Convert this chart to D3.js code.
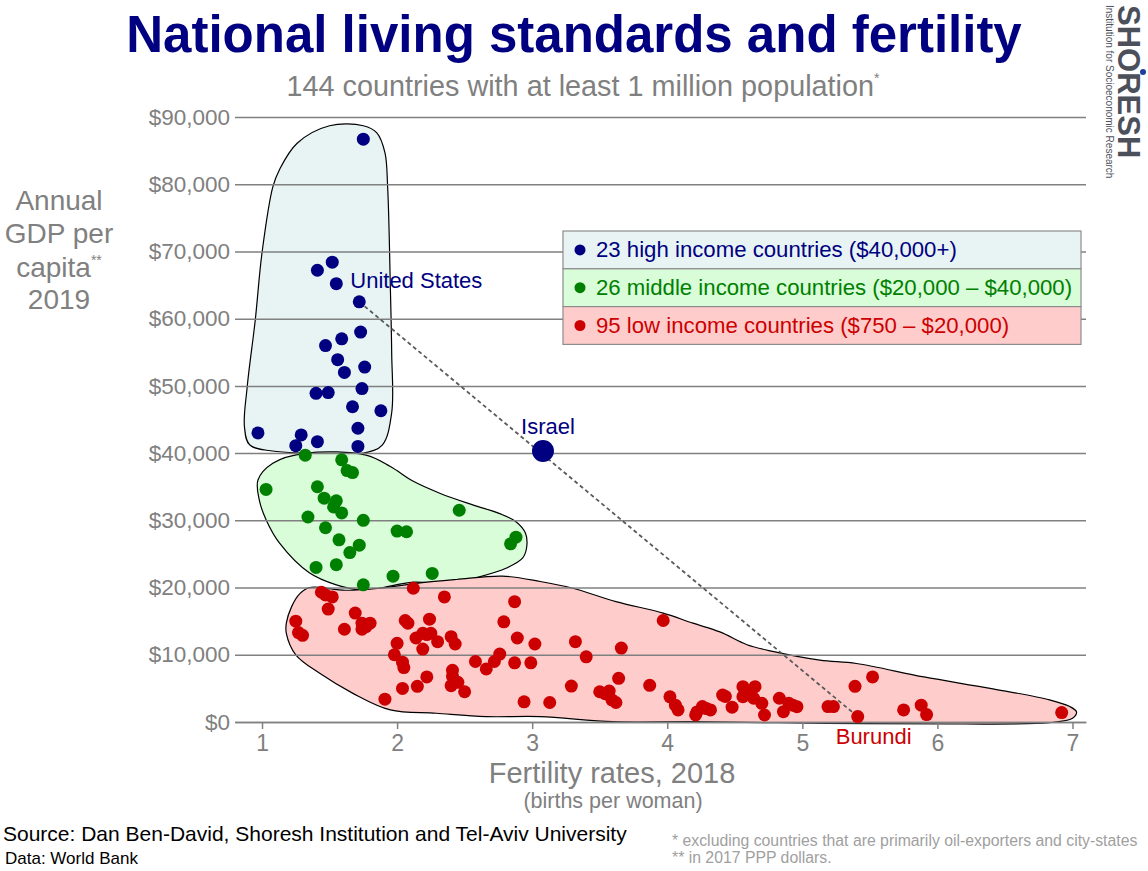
<!DOCTYPE html>
<html>
<head>
<meta charset="utf-8">
<script src="https://cdn.jsdelivr.net/npm/d3@7"></script>
<style>
  body { margin: 0; background: #fff; }
  svg { display: block; font-family: "Liberation Sans", Arial, sans-serif; }
</style>
</head>
<body>
<svg id="chart"></svg>
<script>
// fertility rate (births per woman), GDP per capita (2017 PPP $)
const highIncome = [
  [1.75, 86700], [1.52, 68400], [1.41, 67200], [1.55, 65200], [1.72, 62500],
  [1.73, 58000], [1.59, 57000], [1.47, 56000], [1.56, 53900], [1.76, 52800],
  [1.61, 52000], [1.74, 49600], [1.40, 48900], [1.49, 49000], [1.88, 46300],
  [1.67, 46900], [1.71, 43700], [0.97, 43000], [1.29, 42700], [1.41, 41700],
  [1.25, 41100], [1.71, 41000]
];
const israel = [3.08, 40300];

const middleIncome = [
  [1.32, 39700], [1.59, 39000], [1.63, 37400], [1.67, 37100], [1.03, 34600],
  [1.41, 35000], [1.46, 33300], [1.55, 32900], [1.53, 32000], [1.59, 31100],
  [2.46, 31500], [1.34, 30500], [1.75, 30000], [1.47, 28900], [2.00, 28400],
  [2.07, 28300], [1.57, 27100], [1.72, 26300], [2.88, 27500], [2.84, 26500],
  [1.65, 25200], [1.40, 23000], [1.55, 23400], [2.26, 22100], [1.97, 21700],
  [1.75, 20400]
];

const lowIncome = [
  [1.44, 19300], [1.52, 18600], [1.47, 18900], [1.49, 16800], [1.25, 15000],
  [1.27, 13300], [1.30, 12900], [1.69, 16200], [1.74, 14700], [1.80, 14700],
  [1.74, 13800], [1.77, 14200], [1.61, 13800], [2.12, 19900], [2.35, 18600],
  [2.06, 15100], [2.08, 14700], [2.24, 15300], [2.00, 11700], [2.14, 12500],
  [2.19, 13200], [2.22, 13000], [2.25, 13200], [2.30, 11950], [2.19, 10850],
  [2.40, 12700], [2.43, 11600], [1.98, 10000], [2.87, 17900], [2.79, 14900],
  [2.89, 12500], [3.02, 11600], [2.04, 8900], [2.05, 8100], [2.76, 10100],
  [2.72, 9000], [2.66, 7900], [2.58, 9000], [2.87, 8800], [2.99, 8800],
  [2.41, 7700], [2.41, 6800], [2.22, 6700], [2.40, 5400], [2.45, 5900],
  [2.50, 4500], [2.15, 5300], [2.04, 5000], [1.91, 3400], [2.94, 3000],
  [3.13, 2900], [3.97, 15100], [3.32, 11950], [3.66, 11000], [3.40, 9700],
  [3.64, 6500], [3.29, 5350], [3.87, 5450], [3.50, 4500], [3.57, 4600],
  [3.54, 4200], [3.59, 3300], [3.62, 2900], [4.02, 3750], [4.06, 2500],
  [4.08, 1800], [4.22, 1500], [4.26, 2300], [4.29, 2000], [4.32, 1800],
  [4.21, 1050], [4.41, 4000], [4.43, 3800], [4.48, 2200], [4.56, 5250],
  [4.65, 5250], [4.60, 4500], [4.56, 3770], [4.64, 3530], [4.70, 2780],
  [4.72, 1040], [4.83, 3530], [4.90, 2780], [4.93, 2500], [4.96, 2280],
  [4.86, 1530], [5.19, 2300], [5.23, 2300], [5.39, 5300], [5.52, 6700],
  [5.41, 800], [5.75, 1800], [5.88, 2500], [5.92, 1100], [6.92, 1400]
];

const namedCountries = [
  {name: "United States", fert: 1.72, gdp: 62500, group: "high"},
  {name: "Israel", fert: 3.08, gdp: 40300, group: "high"},
  {name: "Burundi", fert: 5.41, gdp: 800, group: "low"}
];

// hand-drawn group outlines, in data units
const highOutline = [
  [1.75, 88700], [1.85, 87650], [1.91, 84700], [1.93, 79600], [1.95, 64700],
  [1.96, 54900], [1.96, 46000], [1.89, 41200], [1.75, 40000], [1.50, 40000],
  [1.13, 40200], [0.91, 41200], [0.87, 43900], [0.89, 49800], [0.95, 59800],
  [1.00, 69800], [1.08, 79600], [1.13, 82200], [1.26, 86100], [1.50, 88700]
];
const middleOutline = [
  [0.97, 36000], [1.08, 38500], [1.33, 40000], [1.77, 39700], [1.95, 38000],
  [2.12, 35800], [2.32, 34000], [2.56, 32300], [2.76, 31000], [2.88, 29800],
  [2.95, 28100], [2.96, 26100], [2.93, 24400], [2.81, 22900], [2.61, 21600],
  [2.37, 20600], [2.12, 20800], [1.87, 19900], [1.75, 19600], [1.55, 20400],
  [1.35, 22200], [1.13, 26600], [1.03, 30100], [0.98, 33000]
];
const lowOutline = [
  [1.35, 20000], [1.62, 19600], [1.87, 19900], [2.17, 20700], [2.44, 21200],
  [2.78, 21700], [3.06, 20900], [3.30, 19900], [3.62, 17900], [3.97, 16200],
  [4.19, 14700], [4.39, 13400], [4.59, 11500], [4.78, 10500], [5.13, 9200],
  [5.40, 8700], [5.90, 6700], [6.39, 5000], [6.83, 3300], [6.98, 2300],
  [7.03, 1500], [7.00, 550], [6.83, -100], [6.14, -300], [5.18, -200],
  [4.19, 50], [3.60, 50], [3.06, 800], [2.66, 800], [2.29, 1300],
  [1.95, 1800], [1.67, 4300], [1.43, 7200], [1.25, 10000], [1.18, 13200],
  [1.18, 14700], [1.22, 17200], [1.28, 19100]
];

const xTicks = [1, 2, 3, 4, 5, 6, 7];
const yTicks = [0, 10000, 20000, 30000, 40000, 50000, 60000, 70000, 80000, 90000];

const groups = [
  {key: "high", label: "23 high income countries ($40,000+)", data: highIncome, outline: highOutline},
  {key: "middle", label: "26 middle income countries ($20,000 \u2013 $40,000)", data: middleIncome, outline: middleOutline},
  {key: "low", label: "95 low income countries ($750 \u2013 $20,000)", data: lowIncome, outline: lowOutline}
];

const dotColor = {high: "#000080", middle: "#008000", low: "#cc0000"};
const areaColor = {high: "#e8f4f4", middle: "#d9fcd9", low: "#ffcccc"};
const grey = "#808080";

const width = 1148, height = 871;
const plot = {left: 235, right: 1086, top: 117, bottom: 722};

const svg = d3.select("#chart")
    .attr("width", width)
    .attr("height", height);

const x = d3.scaleLinear().domain([0.8, 7.1]).range([plot.left, plot.right]);
const y = d3.scaleLinear().domain([0, 90000]).range([plot.bottom, plot.top]);

// group outlines
const outline = d3.line()
    .x(d => x(d[0]))
    .y(d => y(d[1]))
    .curve(d3.curveCatmullRomClosed.alpha(0.5));

svg.append("g").selectAll("path")
    .data(groups)
  .join("path")
    .attr("d", d => outline(d.outline))
    .attr("fill", d => areaColor[d.key])
    .attr("stroke", "#000")
    .attr("stroke-width", 1.2);

// gridlines + y labels
const yAxis = svg.append("g")
    .attr("transform", `translate(${plot.left},0)`)
    .call(d3.axisLeft(y)
      .tickValues(yTicks)
      .tickFormat(d => "$" + d3.format(",")(d))
      .tickSize(-(plot.right - plot.left))
      .tickSizeOuter(0)
      .tickPadding(5));
yAxis.select(".domain").remove();
yAxis.selectAll(".tick line").attr("stroke", grey).attr("stroke-width", 1.5);
yAxis.selectAll(".tick text")
    .attr("fill", grey)
    .attr("font-size", 22.5)
    .attr("font-family", "Liberation Sans, Arial, sans-serif");

// x axis
const xAxis = svg.append("g")
    .attr("transform", `translate(0,${plot.bottom})`)
    .call(d3.axisBottom(x)
      .tickValues(xTicks)
      .tickFormat(d3.format("d"))
      .tickSize(7)
      .tickSizeOuter(0)
      .tickPadding(6));
xAxis.select(".domain").attr("stroke", grey).attr("stroke-width", 1.5);
xAxis.selectAll(".tick line").attr("stroke", grey).attr("stroke-width", 1.5);
xAxis.selectAll(".tick text")
    .attr("fill", grey)
    .attr("font-size", 23)
    .attr("font-family", "Liberation Sans, Arial, sans-serif");

// United States -> Burundi
const us = namedCountries[0], bu = namedCountries[2];
svg.append("line")
    .attr("x1", x(us.fert)).attr("y1", y(us.gdp))
    .attr("x2", x(bu.fert)).attr("y2", y(bu.gdp))
    .attr("stroke", "#5a5a5a")
    .attr("stroke-width", 1.8)
    .attr("stroke-dasharray", "4,3");

// dots
groups.forEach(g => {
  svg.append("g").selectAll("circle")
      .data(g.data)
    .join("circle")
      .attr("cx", d => x(d[0]))
      .attr("cy", d => y(d[1]))
      .attr("r", 6.5)
      .attr("fill", dotColor[g.key]);
});

svg.append("circle")
    .attr("cx", x(israel[0]))
    .attr("cy", y(israel[1]))
    .attr("r", 11)
    .attr("fill", dotColor.high);

// country labels
const labelOffset = {
  "United States": {dx: -9, dy: -14, anchor: "start"},
  "Israel": {dx: 5, dy: -17, anchor: "middle"},
  "Burundi": {dx: -22, dy: 27, anchor: "start"}
};
svg.append("g").selectAll("text")
    .data(namedCountries)
  .join("text")
    .attr("x", d => x(d.fert) + labelOffset[d.name].dx)
    .attr("y", d => y(d.gdp) + labelOffset[d.name].dy)
    .attr("text-anchor", d => labelOffset[d.name].anchor)
    .attr("font-size", 22)
    .attr("fill", d => dotColor[d.group])
    .text(d => d.name);

// legend
const legend = {x: 563, y: 231, w: 518, rowH: 37.8};
const rows = svg.append("g").selectAll("g")
    .data(groups)
  .join("g")
    .attr("transform", (d, i) => `translate(${legend.x},${legend.y + i * legend.rowH})`);
rows.append("rect")
    .attr("width", legend.w)
    .attr("height", legend.rowH)
    .attr("fill", d => areaColor[d.key])
    .attr("stroke", "#8c8c8c")
    .attr("stroke-width", 1.2);
rows.append("circle")
    .attr("cx", 17)
    .attr("cy", legend.rowH / 2)
    .attr("r", 5.5)
    .attr("fill", d => dotColor[d.key]);
rows.append("text")
    .attr("x", 33)
    .attr("y", 26)
    .attr("font-size", 22.2)
    .attr("fill", d => dotColor[d.key])
    .text(d => d.label);

// titles
svg.append("text")
    .attr("x", 574).attr("y", 52)
    .attr("text-anchor", "middle")
    .attr("font-size", 51)
    .attr("font-weight", "bold")
    .attr("fill", "#000080")
    .text("National living standards and fertility");

const sub = svg.append("text")
    .attr("x", 583).attr("y", 96)
    .attr("text-anchor", "middle")
    .attr("font-size", 28.8)
    .attr("fill", grey)
    .text("144 countries with at least 1 million population");
sub.append("tspan").attr("font-size", 14).attr("dy", -13).text("*");

const yTitle = svg.append("text")
    .attr("text-anchor", "middle")
    .attr("font-size", 28)
    .attr("fill", grey);
yTitle.append("tspan").attr("x", 59).attr("y", 210).text("Annual");
yTitle.append("tspan").attr("x", 59).attr("y", 243).text("GDP per");
yTitle.append("tspan").attr("x", 59).attr("y", 277).text("capita");
yTitle.append("tspan").attr("font-size", 14).attr("dy", -12).text("**");
yTitle.append("tspan").attr("x", 59).attr("y", 309).text("2019");

svg.append("text")
    .attr("x", 612).attr("y", 783)
    .attr("text-anchor", "middle")
    .attr("font-size", 29)
    .attr("fill", grey)
    .text("Fertility rates, 2018");
svg.append("text")
    .attr("x", 613).attr("y", 808)
    .attr("text-anchor", "middle")
    .attr("font-size", 21.5)
    .attr("fill", grey)
    .text("(births per woman)");

// source + notes
svg.append("text")
    .attr("x", 3).attr("y", 841)
    .attr("font-size", 21)
    .attr("fill", "#000")
    .text("Source: Dan Ben-David, Shoresh Institution and Tel-Aviv University");
svg.append("text")
    .attr("x", 5).attr("y", 864)
    .attr("font-size", 17)
    .attr("fill", "#000")
    .text("Data: World Bank");

svg.append("text")
    .attr("x", 672).attr("y", 846)
    .attr("font-size", 15.8)
    .attr("fill", "#a0a0a0")
    .text("* excluding countries that are primarily oil-exporters and city-states");
svg.append("text")
    .attr("x", 672).attr("y", 863)
    .attr("font-size", 15.8)
    .attr("fill", "#a0a0a0")
    .text("** in 2017 PPP dollars.");

// logo, written top to bottom
const logo = svg.append("g").attr("transform", "translate(1118,5) rotate(90)");
logo.append("text")
    .attr("font-size", 31)
    .attr("font-weight", "bold")
    .attr("fill", "#4b505b")
    .text("SHORESH");
logo.append("circle")
    .attr("cx", 67).attr("cy", -25)
    .attr("r", 3)
    .attr("fill", "#1f3f99");
svg.append("text")
    .attr("transform", "translate(1106,5) rotate(90)")
    .attr("font-size", 10)
    .attr("fill", "#4b505b")
    .text("Institution for Socioeconomic Research");
</script>
</body>
</html>
